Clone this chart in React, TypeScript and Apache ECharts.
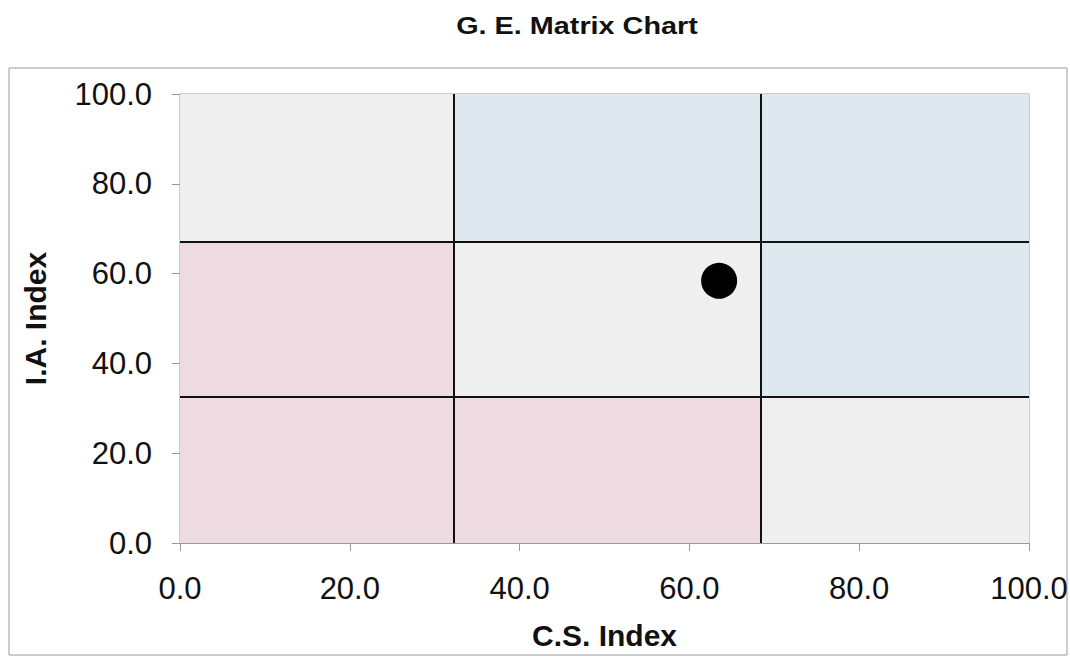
import React, { useEffect, useRef } from "react";
import * as echarts from "echarts";

const xBreaks = [0, 32.2, 68.4, 100];
const yBreaks = [0, 32.6, 67.1, 100];
// zone colours, rows from bottom to top, columns left to right
const zoneColors = [
  ["#eedae1", "#eedae1", "#efefef"],
  ["#eedae1", "#efefef", "#dde9ef"],
  ["#efefef", "#dde9ef", "#dde9ef"],
];
const point = [63.5, 58.4];
const axisTicks = [0, 20, 40, 60, 80, 100];
const titleText = "G. E. Matrix Chart";

export default function App() {
  const ref = useRef<HTMLDivElement>(null);
  useEffect(() => {
    if (!ref.current) return;
    const chart = echarts.init(ref.current, undefined, { renderer: "svg" });
    const areas: any[] = [];
    for (let r = 0; r < 3; r++) {
      for (let c = 0; c < 3; c++) {
        areas.push([
          { coord: [xBreaks[c], yBreaks[r]], itemStyle: { color: zoneColors[r][c] } },
          { coord: [xBreaks[c + 1], yBreaks[r + 1]] },
        ]);
      }
    }
    const lines: any[] = [
      { xAxis: xBreaks[1] },
      { xAxis: xBreaks[2] },
      { yAxis: yBreaks[1] },
      { yAxis: yBreaks[2] },
    ];
    const font = "Liberation Sans, Arial, sans-serif";
    chart.setOption({
      animation: false,
      backgroundColor: "#ffffff",
      graphic: [
        {
          type: "text",
          x: 577,
          y: 26,
          scaleX: 1.2,
          silent: true,
          style: {
            text: titleText,
            fontFamily: font,
            fontSize: 24,
            fontWeight: "bold",
            fill: "#111",
            align: "center",
            verticalAlign: "middle",
          },
        },
        {
          type: "rect",
          shape: { x: 9, y: 68, width: 1058, height: 587 },
          style: { fill: "none", stroke: "#9a9a9a", lineWidth: 1 },
          silent: true,
        },
      ],
      grid: {
        left: 180,
        top: 94,
        width: 849,
        height: 449,
        show: true,
        borderColor: "#999",
        borderWidth: 1,
        containLabel: false,
        outerBoundsMode: "none",
      },
      xAxis: {
        type: "value",
        min: axisTicks[0],
        max: axisTicks[axisTicks.length - 1],
        interval: 20,
        name: "C.S. Index",
        nameLocation: "middle",
        nameGap: 77,
        nameTextStyle: { fontFamily: font, fontSize: 30, fontWeight: "bold", color: "#111" },
        axisLine: { show: true, lineStyle: { color: "#999" } },
        axisTick: { show: true, length: 8, lineStyle: { color: "#999" } },
        splitLine: { show: false },
        axisLabel: {
          fontFamily: font,
          fontSize: 31,
          color: "#111",
          margin: 30,
          formatter: (v: number) => v.toFixed(1),
        },
      },
      yAxis: {
        type: "value",
        min: axisTicks[0],
        max: axisTicks[axisTicks.length - 1],
        interval: 20,
        name: "I.A. Index",
        nameLocation: "middle",
        nameGap: 130,
        nameTextStyle: { fontFamily: font, fontSize: 30, fontWeight: "bold", color: "#111" },
        axisLine: { show: true, lineStyle: { color: "#999" } },
        axisTick: { show: true, length: 8, lineStyle: { color: "#999" } },
        splitLine: { show: false },
        axisLabel: {
          fontFamily: font,
          fontSize: 31,
          color: "#111",
          margin: 28,
          formatter: (v: number) => v.toFixed(1),
        },
      },
      series: [
        {
          type: "scatter",
          data: [point],
          symbol: "circle",
          symbolSize: 36,
          itemStyle: { color: "#000000", opacity: 1 },
          z: 5,
          markArea: { silent: true, data: areas },
          markLine: {
            silent: true,
            symbol: "none",
            label: { show: false },
            lineStyle: { color: "#111", width: 2, type: "solid" },
            data: lines,
          },
        },
      ],
    });
    return () => chart.dispose();
  }, []);
  return (
    <div
      ref={ref}
      style={{ position: "absolute", left: 0, top: 0, width: 1070, height: 664 }}
    />
  );
}
